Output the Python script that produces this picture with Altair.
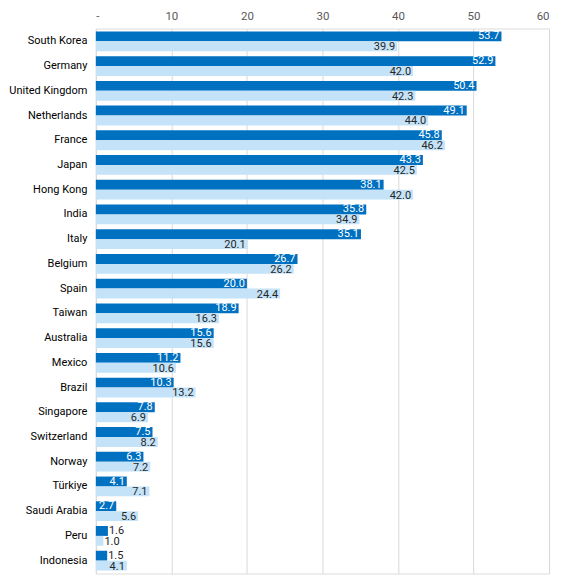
import altair as alt
import pandas as pd

countries = ["South Korea", "Germany", "United Kingdom", "Netherlands", "France",
             "Japan", "Hong Kong", "India", "Italy", "Belgium", "Spain", "Taiwan",
             "Australia", "Mexico", "Brazil", "Singapore", "Switzerland", "Norway",
             "Türkiye", "Saudi Arabia", "Peru", "Indonesia"]
series_a = [53.7, 52.9, 50.4, 49.1, 45.8, 43.3, 38.1, 35.8, 35.1, 26.7, 20.0, 18.9,
            15.6, 11.2, 10.3, 7.8, 7.5, 6.3, 4.1, 2.7, 1.6, 1.5]
series_b = [39.9, 42.0, 42.3, 44.0, 46.2, 42.5, 42.0, 34.9, 20.1, 26.2, 24.4, 16.3,
            15.6, 10.6, 13.2, 6.9, 8.2, 7.2, 7.1, 5.6, 1.0, 4.1]
x_ticks = [0, 10, 20, 30, 40, 50, 60]

rows = []
for c, a, b in zip(countries, series_a, series_b):
    rows.append(dict(country=c, series="A", value=a))
    rows.append(dict(country=c, series="B", value=b))
df = pd.DataFrame(rows)
df["label"] = df["value"].map(lambda v: f"{v:.1f}")
df["inside"] = df["value"] >= 2.5
df["tcolor"] = ["#FFFFFF" if (s == "A" and i) else "#262626"
                for s, i in zip(df["series"], df["inside"])]

FONT = "Roboto"

y = alt.Y("country:N", sort=countries, title=None,
          scale=alt.Scale(paddingInner=0.2, paddingOuter=0.12),
          axis=alt.Axis(domain=False, ticks=False, labelPadding=9,
                        labelFontSize=11, labelColor="#000000", labelFont=FONT))
yoff = alt.YOffset("series:N", sort=["A", "B"], scale=alt.Scale(paddingInner=0, paddingOuter=0))
x = alt.X("value:Q", title=None,
          scale=alt.Scale(domain=[0, 60], nice=False),
          axis=alt.Axis(orient="top", values=x_ticks, domain=False, ticks=False,
                        grid=True, gridColor="#D9D9D9", labelPadding=7,
                        labelFontSize=11.5, labelColor="#595959", labelFont=FONT,
                        labelExpr="datum.value == 0 ? '-' : datum.label"))

base = alt.Chart(df)

bars = base.mark_bar().encode(
    x=x, y=y, yOffset=yoff,
    color=alt.Color("series:N", scale=alt.Scale(domain=["A", "B"],
                    range=["#0070C0", "#C4E3F8"]), legend=None),
)

def labels(filt, align, dx, dy):
    return base.transform_filter(filt).mark_text(
        align=align, baseline="middle", dx=dx, dy=dy, fontSize=11, font=FONT
    ).encode(x="value:Q", y=alt.Y("country:N", sort=countries), yOffset=yoff,
             text="label:N", color=alt.Color("tcolor:N", scale=None))

layers = [
    bars,
    labels("datum.inside && datum.series == 'A'", "right", -2, 0),
    labels("datum.inside && datum.series == 'B'", "right", -2, 1),
    labels("!datum.inside && datum.series == 'A'", "left", 1, 0),
    labels("!datum.inside && datum.series == 'B'", "left", 1, 1),
]

chart = alt.layer(*layers).properties(
    width=454, height=546,
    autosize=alt.AutoSizeParams(type="none"),
    padding={"left": 88, "top": 20, "right": 20, "bottom": 2},
).configure_view(stroke=None).configure(background="#FFFFFF")

chart.save("out.html", embed_options={"renderer": "svg", "actions": False})
